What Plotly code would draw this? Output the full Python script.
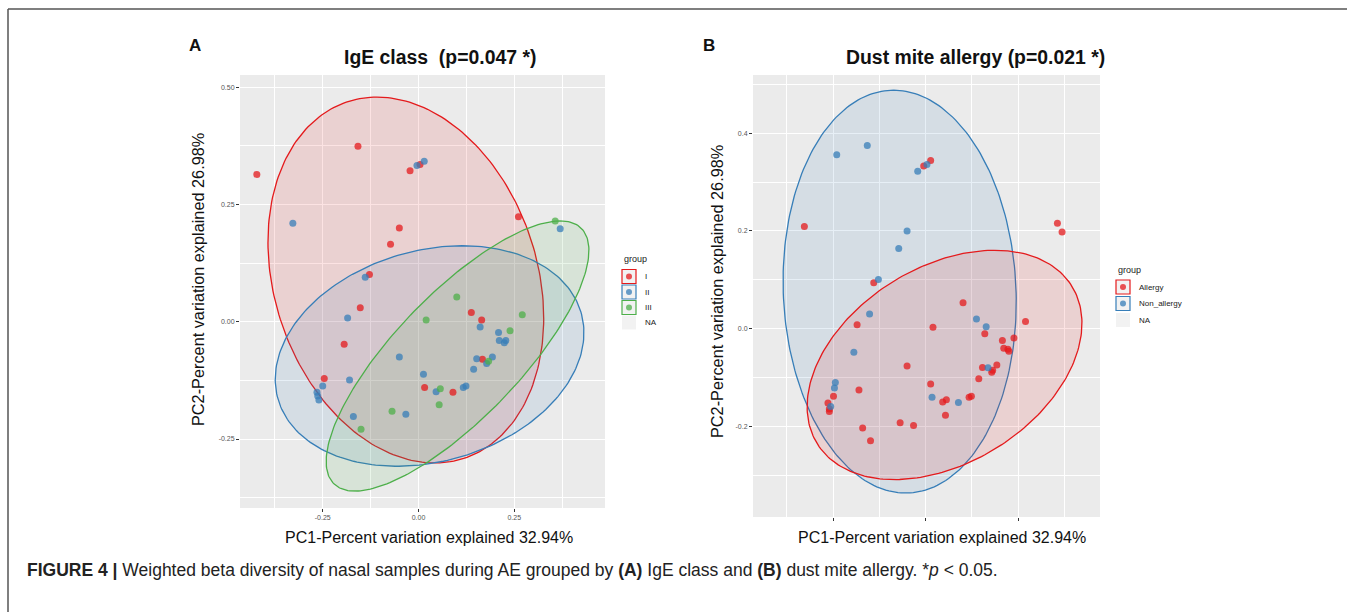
import numpy as np
import plotly.graph_objects as go

W_PX, H_PX = 1355, 612

# ---------------- Data: panel A (IgE class) ----------------
a_I_x = [-0.422, -0.158, -0.022, 0.004, -0.050, -0.073, 0.261, -0.128, -0.152, -0.194,
         -0.246, 0.016, 0.090, 0.138, 0.165, 0.167]
a_I_y = [0.314, 0.374, 0.322, 0.335, 0.200, 0.165, 0.224, 0.101, 0.030, -0.048,
         -0.121, -0.140, -0.150, 0.020, 0.004, -0.080]
a_II_x = [-0.004, 0.015, -0.328, 0.370, -0.139, -0.185, -0.250, -0.180, -0.265, -0.263,
          -0.260, -0.170, -0.033, -0.050, 0.013, 0.046, 0.117, 0.124, 0.161, 0.209,
          0.211, 0.224, 0.228, 0.152, 0.193, 0.178, 0.144]
a_II_y = [0.333, 0.342, 0.210, 0.198, 0.095, 0.008, -0.137, -0.124, -0.150, -0.158,
          -0.167, -0.202, -0.197, -0.075, -0.112, -0.149, -0.140, -0.137, -0.011, -0.023,
          -0.040, -0.045, -0.040, -0.079, -0.075, -0.089, -0.101]
a_III_x = [0.357, -0.150, -0.069, 0.020, 0.100, 0.057, 0.054, 0.271, 0.239, 0.183]
a_III_y = [0.215, -0.229, -0.191, 0.004, 0.053, -0.143, -0.177, 0.015, -0.019, -0.084]

# ellipse params: center x, center y, half-width, half-height, x-offset of top point
a_ell_I = [-0.033, 0.089, 0.360, 0.390, -0.075]
a_ell_II = [0.029, -0.073, 0.403, 0.235, 0.085]
a_ell_III = [0.102, -0.073, 0.343, 0.288, 0.268]

# ---------------- Data: panel B (Dust mite allergy) ----------------
b_all_x = [-0.262, -0.004, 0.011, 0.285, 0.295, -0.112, -0.148, 0.081, 0.016, 0.128,
           0.216, 0.166, 0.191, 0.169, 0.178, 0.180, -0.040, 0.123, 0.154, 0.145,
           0.143, 0.115, 0.011, -0.199, -0.144, -0.211, -0.208, -0.208, 0.037, 0.045,
           0.094, 0.099, 0.043, -0.055, -0.026, -0.136, -0.119]
b_all_y = [0.209, 0.333, 0.344, 0.216, 0.198, 0.094, 0.008, 0.053, 0.003, -0.010,
           0.015, -0.024, -0.019, -0.040, -0.042, -0.046, -0.076, -0.079, -0.074, -0.085,
           -0.089, -0.102, -0.113, -0.138, -0.125, -0.152, -0.164, -0.169, -0.150, -0.145,
           -0.140, -0.138, -0.177, -0.192, -0.198, -0.203, -0.229]
b_non_x = [-0.192, -0.126, -0.017, 0.003, -0.040, -0.058, -0.102, -0.121, -0.155, 0.110,
           0.131, 0.135, -0.195, -0.197, -0.205, 0.014, 0.071]
b_non_y = [0.356, 0.375, 0.322, 0.336, 0.200, 0.164, 0.101, 0.030, -0.048, 0.020,
           0.004, -0.080, -0.110, -0.121, -0.159, -0.140, -0.151]

b_ell_all = [0.041, -0.074, 0.297, 0.2345, 0.108]
b_ell_non = [-0.056, 0.076, 0.252, 0.412, -0.013]

a_xticks = [-0.25, 0.0, 0.25]
a_xticklabels = ["-0.25", "0.00", "0.25"]
a_yticks = [-0.25, 0.0, 0.25, 0.50]
a_yticklabels = ["-0.25", "0.00", "0.25", "0.50"]
b_xticks = [-0.2, 0.0, 0.2]
b_yticks = [-0.2, 0.0, 0.2, 0.4]
b_yticklabels = ["-0.2", "0.0", "0.2", "0.4"]

RED, BLUE, GREEN = "#E41A1C", "#377EB8", "#4DAF4A"


def rgba(hexc, a):
    h = hexc.lstrip("#")
    return f"rgba({int(h[0:2],16)},{int(h[2:4],16)},{int(h[4:6],16)},{a})"


def ellipse(params, n=240):
    cx, cy, w, h, p = params
    q = np.sqrt(max(w * w - p * p, 0.0))
    t = np.linspace(0, 2 * np.pi, n)
    return cx + p * np.cos(t) + q * np.sin(t), cy + h * np.cos(t)


def px(x):
    return x / W_PX


def py(y):
    return 1 - y / H_PX


fig = go.Figure()

# ellipses
for params, col, xa, ya in [
    (a_ell_I, RED, "x", "y"), (a_ell_II, BLUE, "x", "y"), (a_ell_III, GREEN, "x", "y"),
    (b_ell_non, BLUE, "x2", "y2"), (b_ell_all, RED, "x2", "y2"),
]:
    ex, ey = ellipse(params)
    fig.add_trace(go.Scatter(x=ex, y=ey, mode="lines", fill="toself",
                             fillcolor=rgba(col, 0.12), line=dict(color=col, width=1.3),
                             xaxis=xa, yaxis=ya, showlegend=False, hoverinfo="skip"))

# points
for xs, ys, col, xa, ya in [
    (a_I_x, a_I_y, RED, "x", "y"), (a_II_x, a_II_y, BLUE, "x", "y"),
    (a_III_x, a_III_y, GREEN, "x", "y"),
    (b_all_x, b_all_y, RED, "x2", "y2"), (b_non_x, b_non_y, BLUE, "x2", "y2"),
]:
    fig.add_trace(go.Scatter(x=xs, y=ys, mode="markers",
                             marker=dict(color=col, size=7, opacity=0.75, line=dict(width=0)),
                             xaxis=xa, yaxis=ya, showlegend=False))

tickfont = dict(family="Liberation Sans, Arial", size=7, color="#555555")
common = dict(showgrid=True, gridcolor="white", gridwidth=1, zeroline=False, showline=False,
              ticks="outside", ticklen=3, tickwidth=1, tickcolor="#333333", tickfont=tickfont,
              tickmode="array")

fig.update_layout(
    width=W_PX, height=H_PX, margin=dict(l=0, r=0, t=0, b=0),
    paper_bgcolor="white", plot_bgcolor="#EBEBEB", showlegend=False,
    xaxis=dict(domain=[px(240), px(605)], range=[-0.466, 0.487], anchor="y",
               tickvals=a_xticks, ticktext=a_xticklabels,
               minor=dict(tickvals=[-0.375, -0.125, 0.125, 0.375], showgrid=True,
                          gridcolor="white", gridwidth=0.5, ticks=""), **common),
    yaxis=dict(domain=[py(508), py(75)], range=[-0.397, 0.526], anchor="x",
               tickvals=a_yticks, ticktext=a_yticklabels,
               minor=dict(tickvals=[-0.375, -0.125, 0.125, 0.375], showgrid=True,
                          gridcolor="white", gridwidth=0.5, ticks=""), **common),
    xaxis2=dict(domain=[px(753), px(1100)], range=[-0.373, 0.377], anchor="y2",
                tickvals=b_xticks, showticklabels=False,
                minor=dict(tickvals=[-0.3, -0.1, 0.1, 0.3], showgrid=True,
                           gridcolor="white", gridwidth=0.5, ticks=""), **common),
    yaxis2=dict(domain=[py(517), py(75)], range=[-0.385, 0.519], anchor="x2",
                tickvals=b_yticks, ticktext=b_yticklabels,
                minor=dict(tickvals=[-0.3, -0.1, 0.1, 0.3, 0.5], showgrid=True,
                           gridcolor="white", gridwidth=0.5, ticks=""), **common),
)

FONT = "Liberation Sans, Arial"
ann = []


def text(x, y, s, size, bold=False, color="#111111", angle=0, xanchor="center", yanchor="middle",
         family=FONT):
    ann.append(dict(x=px(x), y=py(y), xref="paper", yref="paper", text=(f"<b>{s}</b>" if bold else s),
                    showarrow=False, font=dict(family=family, size=size, color=color),
                    textangle=angle, xanchor=xanchor, yanchor=yanchor))


# panel labels and titles
text(195, 46, "A", 17, bold=True)
text(709, 46, "B", 17, bold=True)
text(440, 57, "IgE class  (p=0.047 *)", 19.4, bold=True)
text(975, 57, "Dust mite allergy (p=0.021 *)", 19.4, bold=True)

# axis titles
text(198, 280, "PC2-Percent variation explained 26.98%", 16.3, angle=-90)
text(717, 292, "PC2-Percent variation explained 26.98%", 16.3, angle=-90)
text(429, 537, "PC1-Percent variation explained 32.94%", 16)
text(942, 537, "PC1-Percent variation explained 32.94%", 16)

# caption
ann.append(dict(x=px(25), y=py(570), xref="paper", yref="paper", xanchor="left", yanchor="middle",
                showarrow=False, font=dict(family=FONT, size=17.5, color="#222222"),
                text="<b>FIGURE 4 |</b> Weighted beta diversity of nasal samples during AE grouped by "
                     "<b>(A)</b> IgE class and <b>(B)</b> dust mite allergy. *<i>p</i> &lt; 0.05."))

shapes = []
# frame
shapes.append(dict(type="line", xref="paper", yref="paper", x0=px(8), x1=px(1347), y0=py(9), y1=py(9),
                   line=dict(color="#555555", width=1.5)))
shapes.append(dict(type="line", xref="paper", yref="paper", x0=px(8), x1=px(8), y0=py(9), y1=py(612),
                   line=dict(color="#555555", width=1.5)))


def legend(x0, ytitle, ykeys, labels, colors):
    text(x0, ytitle, "group", 9, xanchor="left", color="#222222")
    for yk, lab, col in zip(ykeys, labels, colors):
        shapes.append(dict(type="rect", xref="paper", yref="paper", x0=px(x0), x1=px(x0 + 14),
                           y0=py(yk + 7), y1=py(yk - 7), fillcolor="#F2F2F2",
                           line=dict(color=col if col else "rgba(0,0,0,0)", width=1.2)))
        if col:
            shapes.append(dict(type="circle", xref="paper", yref="paper", x0=px(x0 + 4), x1=px(x0 + 10),
                               y0=py(yk + 3), y1=py(yk - 3), fillcolor=rgba(col, 0.75),
                               line=dict(width=0)))
        text(x0 + 21, yk, lab, 8, xanchor="left", color="#222222")


legend(622, 259, [276.5, 292, 307.5, 322.5], ["I", "II", "III", "NA"], [RED, BLUE, GREEN, None])
legend(1116, 270, [287, 303.5, 320], ["Allergy", "Non_allergy", "NA"], [RED, BLUE, None])

fig.update_layout(annotations=ann, shapes=shapes)
fig.write_html("out.html")
